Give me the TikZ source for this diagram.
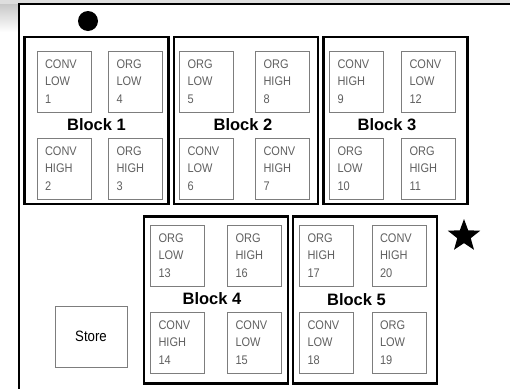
\documentclass[tikz,border=0pt]{standalone}
\usepackage{fontspec}
\setmainfont{Liberation Sans}
\newfontfamily\narrowsans[FakeStretch=0.88]{Liberation Sans}
\usetikzlibrary{shapes.geometric}
\definecolor{plotgray}{RGB}{125,125,125}
\definecolor{labelgray}{RGB}{95,95,95}
\definecolor{framegray}{RGB}{200,200,200}

\begin{document}
\begin{tikzpicture}[x=1pt,y=-1pt,every node/.style={font=\small,align=center},
  blockbox/.style={draw,line width=2.2pt,minimum width=144pt,minimum height=167pt,inner sep=0pt},
  plot/.style={draw=plotgray,line width=1pt,minimum width=54pt,minimum height=61pt,text width=38pt,
    inner xsep=8pt,inner ysep=0pt,align=left,text=labelgray,font=\narrowsans\fontsize{12.5}{17.5}\selectfont},
  blocklabel/.style={font=\fontsize{16.5}{18}\selectfont\bfseries}]
\useasboundingbox (0,0) rectangle (510,389);
% page frame
\fill[framegray!60] (0,0) rectangle (510,4);
\shade[top color=framegray,bottom color=white] (0,4) rectangle (19,32);
\draw[line width=2pt] (510,4) -- (19,4) -- (19,389);

% blocks
\node[blockbox] (b1) at (96.5,120.5) {};
\node[blockbox] (b2) at (246,120.5) {};
\node[blockbox] (b3) at (395.5,120.5) {};
\node[blockbox] (b4) at (216,300) {};
\node[blockbox] (b5) at (365,300) {};

\node[blocklabel] (l1) at (96.5,125) {Block 1};
\node[blocklabel] (l2) at (243,125) {Block 2};
\node[blocklabel] (l3) at (387,125) {Block 3};
\node[blocklabel] (l4) at (212,299) {Block 4};
\node[blocklabel] (l5) at (356.5,300) {Block 5};

% plots, block 1
\node[plot] (p1) at (64,81.5) {CONV\\LOW\\1};
\node[plot] (p4) at (135.5,81.5) {ORG\\LOW\\4};
\node[plot] (p2) at (64,168.5) {CONV\\HIGH\\2};
\node[plot] (p3) at (135.5,168.5) {ORG\\HIGH\\3};
% block 2
\node[plot] (p5) at (206.5,81.5) {ORG\\LOW\\5};
\node[plot] (p8) at (282.5,81.5) {ORG\\HIGH\\8};
\node[plot] (p6) at (206.5,168.5) {CONV\\LOW\\6};
\node[plot] (p7) at (282.5,168.5) {CONV\\HIGH\\7};
% block 3
\node[plot] (p9) at (356.5,81.5) {CONV\\HIGH\\9};
\node[plot] (p12) at (428.5,81.5) {CONV\\LOW\\12};
\node[plot] (p10) at (356.5,168.5) {ORG\\LOW\\10};
\node[plot] (p11) at (428.5,168.5) {ORG\\HIGH\\11};
% block 4
\node[plot] (p13) at (177.5,255.5) {ORG\\LOW\\13};
\node[plot] (p16) at (254.5,255.5) {ORG\\HIGH\\16};
\node[plot] (p14) at (177.5,342.5) {CONV\\HIGH\\14};
\node[plot] (p15) at (254.5,342.5) {CONV\\LOW\\15};
% block 5
\node[plot] (p17) at (326.5,255.5) {ORG\\HIGH\\17};
\node[plot] (p20) at (399,255.5) {CONV\\HIGH\\20};
\node[plot] (p18) at (326.5,342.5) {CONV\\LOW\\18};
\node[plot] (p19) at (399,342.5) {ORG\\LOW\\19};

% store and markers
\node[draw=plotgray,line width=1pt,minimum width=72pt,minimum height=61pt,font=\narrowsans\fontsize{15}{17}\selectfont] (store) at (91,336.5) {Store};
\node[circle,fill,inner sep=0pt,minimum size=20pt] (dot) at (88,21) {};
\node[star,star points=5,star point ratio=2.4,fill,inner sep=0pt,minimum size=34pt] (star) at (464,236) {};
\end{tikzpicture}
\end{document}
